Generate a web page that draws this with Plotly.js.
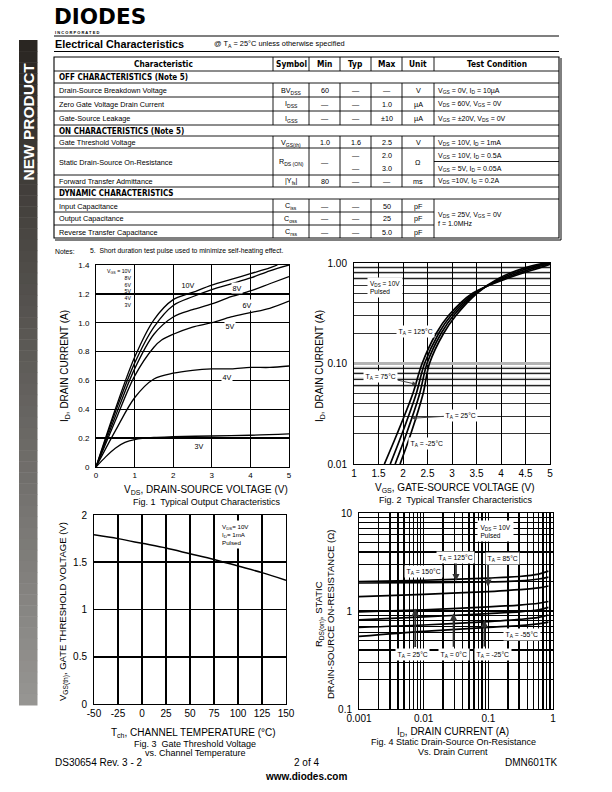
<!DOCTYPE html>
<html><head><meta charset="utf-8">
<script src="https://cdn.plot.ly/plotly-3.0.1.min.js"></script>
<style>html,body{margin:0;padding:0;background:#fff}#g{width:612px;height:792px}</style>
</head><body><div id="g"></div>
<script>
// ================= DATA =================
// Table
const tblHeader = ["Characteristic","Symbol","Min","Typ","Max","Unit","Test Condition"];
const sectionTitles = ["OFF CHARACTERISTICS (Note 5)","ON CHARACTERISTICS (Note 5)","DYNAMIC CHARACTERISTICS"];
const paramNames = ["Drain-Source Breakdown Voltage","Zero Gate Voltage Drain Current","Gate-Source Leakage",
  "Gate Threshold Voltage","Static Drain-Source On-Resistance","Forward Transfer Admittance",
  "Input Capacitance","Output Capacitance","Reverse Transfer Capacitance"];
const paramSymbols = ["BV<sub>DSS</sub>","I<sub>DSS</sub>","I<sub>GSS</sub>","V<sub>GS(th)</sub>","R<sub>DS (ON)</sub>","|Y<sub>fs</sub>|","C<sub>iss</sub>","C<sub>oss</sub>","C<sub>rss</sub>"];
const paramMin = ["60","—","—","1.0","—","80","—","—","—"];
const paramTyp = ["—","—","—","1.6",["—","—"],"—","—","—","—"];
const paramMax = ["—","1.0","±10","2.5",["2.0","3.0"],"—","50","25","5.0"];
const paramUnit = ["V","µA","µA","V","Ω","ms","pF","pF","pF"];
const paramCond = ["V<sub>GS</sub> = 0V, I<sub>D</sub> = 10µA","V<sub>DS</sub> = 60V, V<sub>GS</sub> = 0V","V<sub>GS</sub> = ±20V, V<sub>DS</sub> = 0V",
  "V<sub>DS</sub> = 10V, I<sub>D</sub> = 1mA",["V<sub>GS</sub> = 10V, I<sub>D</sub> = 0.5A","V<sub>GS</sub> = 5V, I<sub>D</sub> = 0.05A"],
  "V<sub>DS</sub> =10V, I<sub>D</sub> = 0.2A",null,null,null];
const dynamicCond = "V<sub>DS</sub> = 25V, V<sub>GS</sub> = 0V<br>f = 1.0MHz";

// Fig 1: output characteristics (VDS in V, ID in A)
const f1Labels = ["10V","8V","6V","5V","4V","3V"];
const vds10 = [0,0.5,1,1.5,2,2.5,3,3.5,4,4.5,4.7];
const id10  = [0,0.40,0.76,1.02,1.16,1.21,1.26,1.30,1.34,1.38,1.40];
const vds8 = [0,0.5,1,1.5,2,2.5,3,3.5,4,4.5,5];
const id8  = [0,0.38,0.72,0.97,1.12,1.18,1.23,1.27,1.31,1.36,1.40];
const vds6 = [0,0.5,1,1.5,2,2.5,3,3.5,4,4.5,5];
const id6  = [0,0.35,0.68,0.92,1.04,1.09,1.13,1.18,1.22,1.27,1.32];
const vds5 = [0,0.5,1,1.5,1.7,2,2.5,3,3.5,4,4.5,5];
const id5  = [0,0.32,0.63,0.83,0.88,0.92,0.97,1.00,1.04,1.07,1.10,1.15];
const vds4 = [0,0.5,1,1.5,2,2.5,3,3.5,4,4.5,5];
const id4  = [0,0.25,0.48,0.61,0.65,0.67,0.68,0.68,0.69,0.69,0.70];
const vds3 = [0,0.25,0.5,0.75,1,1.5,2,3,4,5];
const id3  = [0,0.07,0.13,0.17,0.19,0.205,0.21,0.215,0.22,0.23];
const f1XTicks = [0,1,2,3,4,5];
const f1XText = ["0","1","2","3","4","5"];
const f1YTicks = [0,0.2,0.4,0.6,0.8,1.0,1.2,1.4];
const f1YText = ["0","0.2","0.4","0.6","0.8","1.0","1.2","1.4"];

// Fig 2: transfer characteristics (VGS in V, ID in A)
const vgs125 = [1.62,1.88,2.20,2.39,2.68,2.93,3.42,4.12,4.80,5.00];
const idT125 = [0.01,0.02,0.05,0.10,0.20,0.30,0.50,0.70,0.90,0.97];
const vgs75  = [1.74,1.98,2.27,2.44,2.73,2.98,3.46,4.06,4.70,5.00];
const idT75  = [0.01,0.02,0.05,0.10,0.20,0.30,0.50,0.70,0.90,0.99];
const vgs25  = [1.84,2.07,2.34,2.49,2.78,3.03,3.49,4.00,4.60,5.00];
const idT25  = [0.01,0.02,0.05,0.10,0.20,0.30,0.50,0.70,0.90,1.01];
const vgsM25 = [1.94,2.16,2.41,2.54,2.83,3.08,3.51,3.95,4.50,4.90];
const idTM25 = [0.01,0.02,0.05,0.10,0.20,0.30,0.50,0.70,0.90,1.00];
const f2XTicks = [1,1.5,2,2.5,3,3.5,4,4.5,5];
const f2XText = ["1","1.5","2","2.5","3","3.5","4","4.5","5"];
const f2YTicks = [0.01,0.1,1];
const f2YText = ["0.01","0.10","1.00"];
const f2GrayLevels = [0.06,0.07,0.08,0.09,0.7,0.8,0.9];

// Fig 3: gate threshold voltage vs channel temperature
const tch = [-50,-25,0,25,50,75,100,125,150];
const vth = [1.79,1.75,1.70,1.65,1.59,1.53,1.46,1.39,1.31];
const f3XTicks = [-50,-25,0,25,50,75,100,125,150];
const f3XText = ["-50","-25","0","25","50","75","100","125","150"];
const f3YTicks = [0,0.5,1,1.5,2];
const f3YText = ["0","0.5","1","1.5","2"];

// Fig 4: static on-resistance vs drain current
const idF4 = [0.001,0.01,0.1,0.3,0.6,0.85];
const rds150 = [2.00,2.06,2.17,2.25,2.38,2.55];
const rds125 = [1.93,1.95,1.98,2.03,2.12,2.22];
const rds85  = [1.40,1.48,1.58,1.65,1.72,1.80];
const rds25  = [0.98,1.03,1.10,1.15,1.20,1.25];
const rds0   = [0.81,0.87,0.94,0.98,1.03,1.09];
const rdsM25 = [0.68,0.72,0.78,0.82,0.86,0.91];
const rdsM55 = [0.55,0.62,0.68,0.71,0.74,0.77];
const f4XTicks = [0.001,0.01,0.1,1];
const f4XText = ["0.001","0.01","0.1","1"];
const f4YTicks = [0.1,1,10];
const f4YText = ["0.1","1","10"];

// ================= LAYOUT HELPERS =================
const W = 612, H = 792;
const px = x => x / W;
const py = y => 1 - y / H;
const FONT = "Liberation Sans, Arial, Helvetica, sans-serif";
const NARROW = "DejaVu Sans Condensed, Liberation Sans, Arial, sans-serif";
const annotations = [];
const shapes = [];
function txt(x, y, text, size, opt) {
  opt = opt || {};
  annotations.push(Object.assign({
    xref: 'paper', yref: 'paper', x: px(x), y: py(y), text: text, showarrow: false,
    xanchor: opt.xa || 'center', yanchor: opt.ya || 'middle', align: opt.align || 'center',
    font: {size: size, family: opt.family || FONT, color: opt.color || '#000'},
    textangle: opt.angle || 0,
    bgcolor: opt.bg || 'rgba(0,0,0,0)', borderpad: opt.pad === undefined ? 0 : opt.pad
  }, opt.extra || {}));
}
function line(x0, y0, x1, y1, w, c) {
  shapes.push({type: 'line', xref: 'paper', yref: 'paper', x0: px(x0), y0: py(y0), x1: px(x1), y1: py(y1),
    line: {color: c || '#000', width: w || 1}});
}
function rect(x0, y0, x1, y1, fill) {
  shapes.push({type: 'rect', xref: 'paper', yref: 'paper', x0: px(x0), y0: py(y0), x1: px(x1), y1: py(y1),
    line: {width: 0}, fillcolor: fill});
}

// ---- Left banner (gradient) ----
const bTop = 40, bBot = 705, nBands = 60;
for (let i = 0; i < nBands; i++) {
  const t = i / (nBands - 1);
  const r = Math.round(42 + (150 - 42) * t), g = Math.round(38 + (149 - 38) * t), b = Math.round(34 + (146 - 34) * t);
  rect(19, bTop + (bBot - bTop) * i / nBands, 37.5, bTop + (bBot - bTop) * (i + 1) / nBands + 0.5, `rgb(${r},${g},${b})`);
}
txt(28.5, 122, "<b>NEW PRODUCT</b>", 15.5, {color: '#fff', angle: -90});

// ---- Logo & header ----
txt(53, 16, "<b>DIODES</b>", 21.5, {xa: 'left', family: "DejaVu Sans, Liberation Sans, Arial, sans-serif"});
txt(54, 33, "<b>I N C O R P O R A T E D</b>", 4, {xa: 'left'});
line(54, 36, 559, 36, 1.2);
txt(54, 44, "<b>Electrical Characteristics</b>", 10.8, {xa: 'left'});
txt(213, 43.5, "@ T<sub>A</sub> = 25°C unless otherwise specified", 7.4, {xa: 'left'});
line(54, 51.5, 559, 51.5, 1.2);

// ---- Table ----
const colX = [54, 273, 309, 340, 371, 402, 434, 559];
const tTop = 57, tBot = 238;
const sectionRows = [[71, 83], [125, 136], [187, 199]];
const paramRows = [[83, 97], [97, 111], [111, 125], [136, 148], [148, 175], [175, 187], [199, 212], [212, 225], [225, 238]];
const vGroups = [[57, 71], [83, 125], [136, 187], [199, 238]];
[71, 83, 97, 111, 125, 136, 148, 175, 187, 199].forEach(y => line(colX[0], y, colX[7], y, 0.9));
[212, 225].forEach(y => line(colX[0], y, colX[6], y, 0.9));
line(colX[6], 161.5, colX[7], 161.5, 0.9);
vGroups.forEach(gp => { for (let c = 1; c <= 6; c++) line(colX[c], gp[0], colX[c], gp[1], 0.9); });
shapes.push({type: 'rect', xref: 'paper', yref: 'paper', x0: px(colX[0]), y0: py(tBot), x1: px(colX[7]), y1: py(tTop), line: {color: '#000', width: 1.1}});
line(colX[7] + 2, tTop + 1, colX[7] + 2, tBot + 2, 1);
line(colX[0] + 1, tBot + 2, colX[7] + 2, tBot + 2, 1);
const colC = i => (colX[i] + colX[i + 1]) / 2;
tblHeader.forEach((h, i) => txt(colC(i), 64.5, "<b>" + h + "</b>", 8.3, {family: NARROW}));
sectionTitles.forEach((s, i) => txt(58, (sectionRows[i][0] + sectionRows[i][1]) / 2 + 0.5, "<b>" + s + "</b>", 8, {xa: 'left', family: NARROW}));
function cellVal(v, col, r) {
  const yc = (r[0] + r[1]) / 2 + 0.5;
  if (Array.isArray(v)) {
    txt(colC(col), yc - 6.5, v[0], 7.2);
    txt(colC(col), yc + 6.5, v[1], 7.2);
  } else txt(colC(col), yc, v, 7.2);
}
paramNames.forEach((n, i) => {
  const r = paramRows[i];
  const yc = (r[0] + r[1]) / 2 + 0.5;
  txt(58, yc, n, 7.3, {xa: 'left'});
  txt(colC(1), yc, paramSymbols[i], 7.2);
  cellVal(paramMin[i], 2, r);
  cellVal(paramTyp[i], 3, r);
  cellVal(paramMax[i], 4, r);
  txt(colC(5), yc, paramUnit[i], 7.2);
  const c = paramCond[i];
  if (Array.isArray(c)) {
    txt(437, yc - 6.5, c[0], 7, {xa: 'left'});
    txt(437, yc + 6.5, c[1], 7, {xa: 'left'});
  } else if (c) txt(437, yc, c, 7, {xa: 'left'});
});
txt(437, (199 + 238) / 2 + 0.5, dynamicCond, 7, {xa: 'left', align: 'left'});
txt(54, 251, "Notes:", 6.8, {xa: 'left'});
txt(89, 251, "5.  Short duration test pulse used to minimize self-heating effect.", 6.8, {xa: 'left'});

// ---- Plot regions (page px) ----
const R1 = {l: 96, r: 289, t: 265, b: 467};
const R2 = {l: 354, r: 550, t: 263, b: 464};
const R3 = {l: 94, r: 286, t: 515, b: 704};
const R4 = {l: 359, r: 553, t: 513, b: 709};
const dx = R => [px(R.l), px(R.r)];
const dy = R => [py(R.b), py(R.t)];

function axBase(extra) {
  return Object.assign({showline: true, mirror: true, linecolor: '#000', linewidth: 1,
    showgrid: true, gridcolor: '#000', gridwidth: 1.1, zeroline: false, ticks: '',
    tickfont: {size: 9, color: '#000', family: FONT}, fixedrange: true, tickmode: 'array'}, extra);
}

// ---- Traces ----
const traces = [];
function addLine(xa, ya, xs, ys, w, shape) {
  traces.push({type: 'scatter', mode: 'lines', x: xs, y: ys, xaxis: xa, yaxis: ya,
    line: {color: '#000', width: w, shape: shape || 'linear', smoothing: 0.9}, hoverinfo: 'skip', showlegend: false});
}
[[vds10, id10], [vds8, id8], [vds6, id6], [vds5, id5], [vds4, id4], [vds3, id3]].forEach(p => addLine('x', 'y', p[0], p[1], 1.3, 'spline'));
[[vgs125, idT125], [vgs75, idT75], [vgs25, idT25], [vgsM25, idTM25]].forEach(p => addLine('x2', 'y2', p[0], p[1], 1.7, 'spline'));
addLine('x3', 'y3', tch, vth, 1.5, 'spline');
[rds150, rds125, rds85, rds25, rds0, rdsM25, rdsM55].forEach(r => addLine('x4', 'y4', idF4, r, 1.7, 'spline'));

f2GrayLevels.forEach(v => shapes.push({type: 'line', xref: 'x2 domain', yref: 'y2', x0: 0, x1: 1, y0: v, y1: v,
  line: {color: '#b4b4b4', width: 2.5}, layer: 'below'}));

// ---- Fig 1 annotations ----
txt(132, 288, "V<sub>GS</sub> = 10V<br>8V<br>6V<br>5V<br>4V<br>3V", 5.2, {xa: 'right', align: 'right'});
const f1LabelPos = [[188, 285], [236.5, 287.5], [246.5, 305], [229.5, 326.5], [226.5, 376.5], [199, 445.5]];
f1Labels.forEach((s, i) => txt(f1LabelPos[i][0], f1LabelPos[i][1], s, 7.2, {bg: '#fff', pad: 0.5}));
txt(65, 366, "I<sub>D</sub>, DRAIN CURRENT (A)", 10, {angle: -90});
txt(206, 490, "V<sub>DS</sub>, DRAIN-SOURCE VOLTAGE (V)", 10);
txt(206, 501.5, "Fig. 1  Typical Output Characteristics", 9);

// ---- Fig 2 annotations ----
txt(367, 287.5, "V<sub>DS</sub> = 10V<br>Pulsed", 6.5, {xa: 'left', align: 'left', bg: '#fff', pad: 2});
txt(415, 331, "T<sub>A</sub> = 125°C", 6.8, {bg: '#fff', pad: 1.5});
annotations.push({xref: 'x2', yref: 'y2', x: 2.28, y: Math.log10(0.062), text: "T<sub>A</sub> = 75°C", showarrow: true,
  ax: -36, ay: -8, arrowhead: 2, arrowsize: 0.9, arrowwidth: 1, font: {size: 6.8, family: FONT, color: '#000'}, bgcolor: '#fff', borderpad: 1.5});
annotations.push({xref: 'x2', yref: 'y2', x: 2.18, y: Math.log10(0.0285), text: "T<sub>A</sub> = 25°C", showarrow: true,
  ax: 49, ay: -3, arrowhead: 2, arrowsize: 0.9, arrowwidth: 1, font: {size: 6.8, family: FONT, color: '#000'}, bgcolor: '#fff', borderpad: 1.5});
txt(427, 443.5, "T<sub>A</sub> = -25°C", 6.8, {bg: '#fff', pad: 1.5});
txt(320, 366, "I<sub>D</sub>, DRAIN CURRENT (A)", 10, {angle: -90});
txt(455, 488, "V<sub>GS</sub>, GATE-SOURCE VOLTAGE (V)", 10);
txt(455, 500, "Fig. 2  Typical Transfer Characteristics", 9);

// ---- Fig 3 annotations ----
txt(219, 534, "V<sub>DS</sub>= 10V<br>I<sub>D</sub>= 1mA<br>Pulsed", 6.2, {xa: 'left', align: 'left', bg: '#fff', pad: 2});
txt(63, 612, "V<sub>GS(th)</sub>, GATE THRESHOLD VOLTAGE (V)", 9.5, {angle: -90});
txt(193, 733, "T<sub>ch</sub>, CHANNEL TEMPERATURE (°C)", 10);
txt(195, 744, "Fig. 3  Gate Threshold Voltage", 9);
txt(195, 753, "vs. Channel Temperature", 9);

// ---- Fig 4 annotations ----
txt(477, 531, "V<sub>DS</sub> = 10V<br>Pulsed", 6.5, {xa: 'left', align: 'left', bg: '#fff', pad: 2.5});
function arrow4(xv, yv, ayPx) {
  annotations.push({xref: 'x4', yref: 'y4', x: Math.log10(xv), y: Math.log10(yv), text: '', showarrow: true,
    ax: 0, ay: ayPx, arrowhead: 2, arrowsize: 0.8, arrowwidth: 1.8, arrowcolor: '#333'});
}
arrow4(0.0316, 2.02, -20);
arrow4(0.099, 1.77, -25);
arrow4(0.0074, 1.06, 40);
arrow4(0.029, 0.946, 35);
arrow4(0.087, 0.81, 28);
txt(455, 557.5, "T<sub>A</sub> = 125°C", 6.8, {bg: '#fff', pad: 1.5});
txt(502, 558, "T<sub>A</sub> = 85°C", 6.8, {bg: '#fff', pad: 1.5});
txt(423, 571.5, "T<sub>A</sub> = 150°C", 6.8, {bg: '#fff', pad: 1.5});
txt(412, 654, "T<sub>A</sub> = 25°C", 6.8, {bg: '#fff', pad: 1.5});
txt(454, 654, "T<sub>A</sub> = 0°C", 6.8, {bg: '#fff', pad: 1.5});
txt(493, 654, "T<sub>A</sub> = -25°C", 6.8, {bg: '#fff', pad: 1.5});
txt(522, 634, "T<sub>A</sub> = -55°C", 6.8, {bg: '#fff', pad: 1.5});
txt(324, 614, "R<sub>DS(on)</sub>, STATIC<br>DRAIN-SOURCE ON-RESISTANCE (Ω)", 9.5, {angle: -90});
txt(453, 731.5, "I<sub>D</sub>, DRAIN CURRENT (A)", 10);
txt(453, 742, "Fig. 4 Static Drain-Source On-Resistance", 9);
txt(453, 751.5, "Vs. Drain Current", 9);

// ---- Footer ----
txt(54, 762.5, "DS30654 Rev. 3 - 2", 10, {xa: 'left'});
txt(306, 762.5, "2 of 4", 10);
txt(559, 762.5, "DMN601TK", 10, {xa: 'right'});
txt(306, 776, "<b>www.diodes.com</b>", 10);

// ================= LAYOUT =================
const minorLog = {tickmode: 'array', showgrid: true, gridcolor: '#000', gridwidth: 1,
  tickvals: [0.002,0.003,0.004,0.005,0.006,0.007,0.008,0.009,0.02,0.03,0.04,0.05,0.06,0.07,0.08,0.09,0.2,0.3,0.4,0.5,0.6,0.7,0.8,0.9,2,3,4,5,6,7,8,9]};
const layout = {
  width: W, height: H, margin: {l: 0, r: 0, t: 0, b: 0, pad: 0},
  paper_bgcolor: '#fff', plot_bgcolor: '#fff', showlegend: false,
  font: {family: FONT, color: '#000'},
  xaxis: axBase({domain: dx(R1), anchor: 'y', range: [0, 5], tickvals: f1XTicks, ticktext: f1XText, tickfont: {size: 8, family: FONT, color: '#000'}, gridwidth: 1.3}),
  yaxis: axBase({domain: dy(R1), anchor: 'x', range: [0, 1.4], tickvals: f1YTicks, ticktext: f1YText, tickfont: {size: 8, family: FONT, color: '#000'}, gridwidth: 1.3, ticklabelstandoff: 4}),
  xaxis2: axBase({domain: dx(R2), anchor: 'y2', range: [1, 5], tickvals: f2XTicks, ticktext: f2XText, tickfont: {size: 10, family: FONT, color: '#000'}, gridwidth: 1}),
  yaxis2: axBase({domain: dy(R2), anchor: 'x2', type: 'log', range: [-2, 0], tickvals: f2YTicks, ticktext: f2YText,
    tickfont: {size: 10, family: FONT, color: '#000'}, gridcolor: '#b4b4b4', gridwidth: 2.5, ticklabelstandoff: 4,
    minor: Object.assign({}, minorLog, {gridwidth: 0.8})}),
  xaxis3: axBase({domain: dx(R3), anchor: 'y3', range: [-50, 150], tickvals: f3XTicks, ticktext: f3XText, tickfont: {size: 10, family: FONT, color: '#000'}, gridwidth: 1.6}),
  yaxis3: axBase({domain: dy(R3), anchor: 'x3', range: [0, 2], tickvals: f3YTicks, ticktext: f3YText, tickfont: {size: 10, family: FONT, color: '#000'}, gridwidth: 1.6, ticklabelstandoff: 4}),
  xaxis4: axBase({domain: dx(R4), anchor: 'y4', type: 'log', range: [-3, 0], tickvals: f4XTicks, ticktext: f4XText,
    tickfont: {size: 10, family: FONT, color: '#000'}, gridwidth: 1.6, minor: Object.assign({}, minorLog, {gridwidth: 1.5})}),
  yaxis4: axBase({domain: dy(R4), anchor: 'x4', type: 'log', range: [-1, 1], tickvals: f4YTicks, ticktext: f4YText,
    tickfont: {size: 10, family: FONT, color: '#000'}, gridwidth: 1.6, ticklabelstandoff: 4, minor: Object.assign({}, minorLog, {gridwidth: 1.3})}),
  annotations: annotations, shapes: shapes
};
Plotly.newPlot('g', traces, layout, {staticPlot: true, displayModeBar: false});
</script></body></html>
